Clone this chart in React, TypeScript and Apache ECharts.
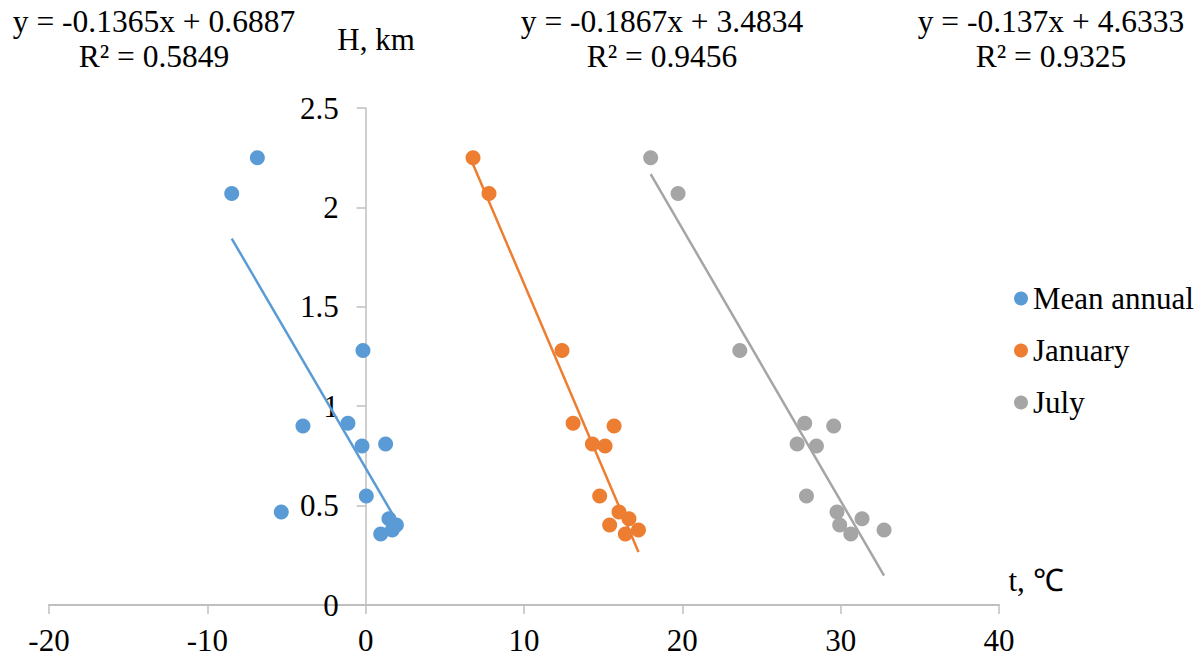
import React, { useEffect, useRef } from "react";
import * as echarts from "echarts";

// Heights of the stations, km
const heights = [2.25, 2.07, 1.28, 0.914, 0.9, 0.81, 0.8, 0.548, 0.468, 0.434, 0.402, 0.377, 0.357];
// Temperatures, °C
const meanAnnual = [-6.84, -8.46, -0.17, -1.12, -3.96, 1.26, -0.23, 0.04, -5.33, 1.47, 1.94, 1.68, 0.95];
const january = [6.78, 7.79, 12.4, 13.1, 15.69, 14.32, 15.12, 14.78, 16.0, 16.63, 15.41, 17.23, 16.4];
const july = [18.0, 19.73, 23.63, 27.73, 29.56, 27.25, 28.47, 27.84, 29.77, 31.35, 29.94, 32.74, 30.64];

const seriesNames = ["Mean annual", "January", "July"];
const colors = ["#5b9bd5", "#ed7d31", "#a5a5a5"];
// Linear trend coefficients as printed on the chart
const slopes = [-0.1365, -0.1867, -0.137];
const intercepts = [0.6887, 3.4834, 4.6333];
const r2 = ["0.5849", "0.9456", "0.9325"];
const eqLabels = ["y = -0.1365x + 0.6887", "y = -0.1867x + 3.4834", "y = -0.137x + 4.6333"];

const FONT = "'Liberation Serif', 'Times New Roman', serif";
const GRID_LEFT = 49;
const GRID_WIDTH = 950;
const X_MIN = -20;
const X_MAX = 40;

export default function App() {
  const ref = useRef<HTMLDivElement>(null);
  useEffect(() => {
    if (!ref.current) return;
    const chart = echarts.init(ref.current, null, { renderer: "svg" });
    const temps = [meanAnnual, january, july];
    const scatter = temps.map((t, i) => ({
      name: seriesNames[i],
      type: "scatter",
      symbol: "circle",
      symbolSize: 15,
      itemStyle: { color: colors[i], opacity: 1 },
      data: t.map((x, j) => [x, heights[j]]),
      z: 3,
    }));
    const trends = temps.map((t, i) => {
      const lo = Math.min(...t);
      const hi = Math.max(...t);
      return {
        name: seriesNames[i] + " trend",
        type: "line",
        showSymbol: false,
        symbol: "none",
        lineStyle: { color: colors[i], width: 2.5 },
        data: [
          [lo, slopes[i] * lo + intercepts[i]],
          [hi, slopes[i] * hi + intercepts[i]],
        ],
        z: 2,
      };
    });
    const eqX = [154, 662, 1051];
    const graphics: any[] = [];
    eqX.forEach((x, i) => {
      graphics.push({
        type: "text",
        x,
        y: 21,
        style: { text: eqLabels[i], font: `31.5px ${FONT}`, fill: "#000", textAlign: "center", textVerticalAlign: "middle" },
      });
      graphics.push({
        type: "text",
        x,
        y: 56,
        style: { text: "R² = " + r2[i], font: `31.5px ${FONT}`, fill: "#000", textAlign: "center", textVerticalAlign: "middle" },
      });
    });
    graphics.push({
      type: "text",
      x: 376,
      y: 39,
      style: { text: "H, km", font: `31px ${FONT}`, fill: "#000", textAlign: "center", textVerticalAlign: "middle" },
    });
    graphics.push({
      type: "text",
      x: 1036,
      y: 580,
      style: { text: "t, ℃", font: `31px ${FONT}`, fill: "#000", textAlign: "center", textVerticalAlign: "middle" },
    });

    // y axis sits at x = 0: shift it from the grid's left edge
    const yOffset = -((0 - X_MIN) / (X_MAX - X_MIN)) * GRID_WIDTH;

    chart.setOption({
      animation: false,
      grid: { left: GRID_LEFT, top: 108, width: GRID_WIDTH, height: 497, containLabel: false, outerBoundsMode: "none" },
      legend: {
        data: seriesNames,
        orient: "vertical",
        left: 1009,
        top: 278,
        itemWidth: 14,
        itemHeight: 14,
        itemGap: 21,
        icon: "circle",
        itemStyle: { opacity: 1 },
        textStyle: { fontFamily: FONT, fontSize: 31, color: "#000", lineHeight: 31 },
      },
      xAxis: {
        type: "value",
        min: X_MIN,
        max: X_MAX,
        interval: 10,
        splitLine: { show: false },
        axisLine: { show: true, onZero: true, lineStyle: { color: "#bfbfbf", width: 2 } },
        axisTick: { show: true, length: 9, lineStyle: { color: "#bfbfbf", width: 1.5 } },
        axisLabel: { fontFamily: FONT, fontSize: 31, color: "#000", margin: 20 },
      },
      yAxis: {
        type: "value",
        position: "left",
        offset: yOffset,
        min: 0,
        max: 2.5,
        interval: 0.5,
        splitLine: { show: false },
        axisLine: { show: true, onZero: false, lineStyle: { color: "#bfbfbf", width: 1.5 } },
        axisTick: { show: true, length: 9, lineStyle: { color: "#bfbfbf", width: 1.5 } },
        axisLabel: { fontFamily: FONT, fontSize: 31, color: "#000", margin: 27 },
      },
      graphic: graphics,
      series: [...trends, ...scatter],
    });
    return () => chart.dispose();
  }, []);
  return <div ref={ref} style={{ position: "absolute", left: 0, top: 0, width: 1204, height: 660 }} />;
}
